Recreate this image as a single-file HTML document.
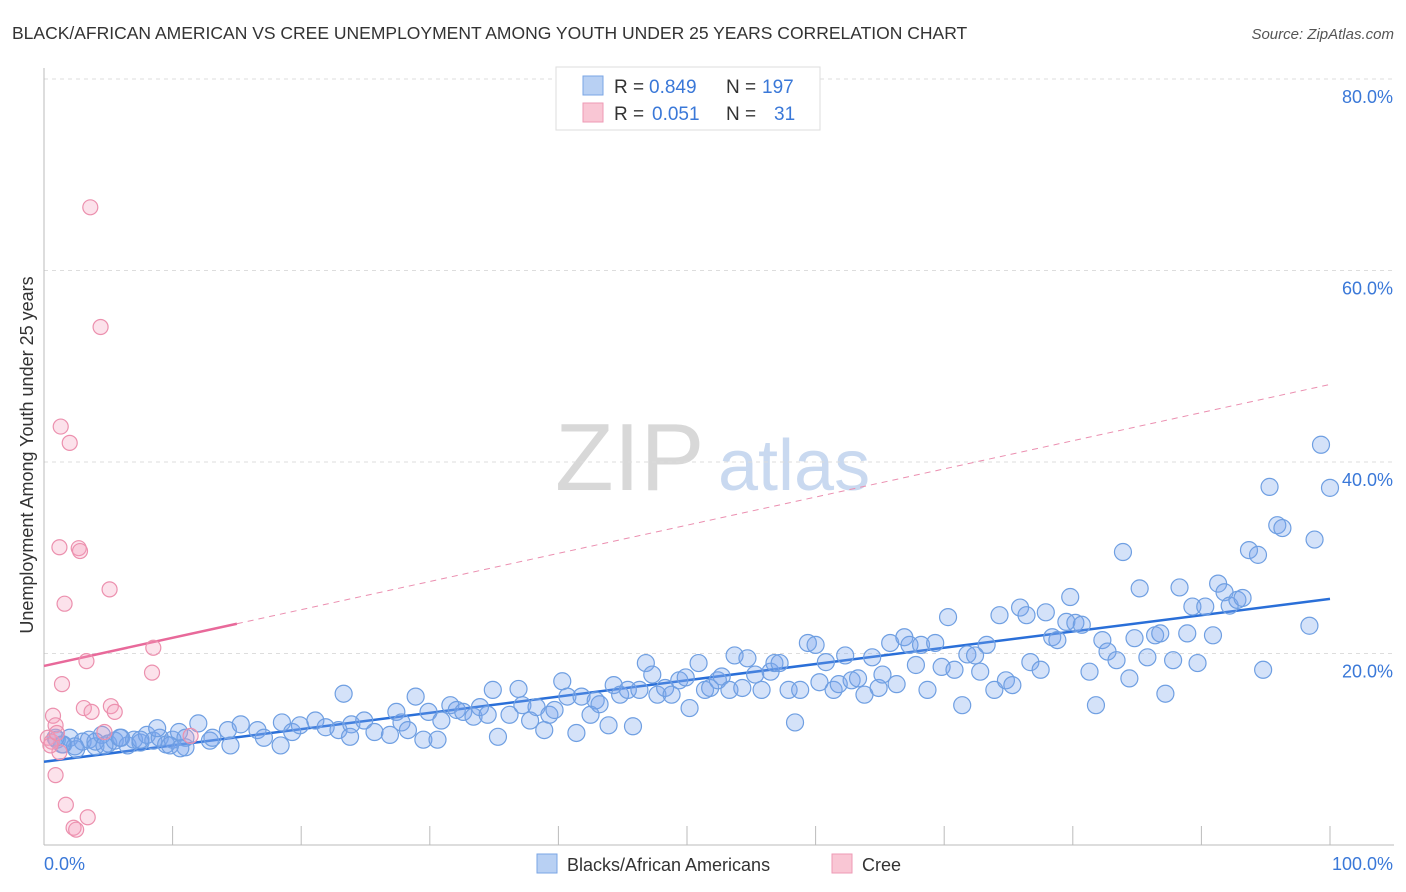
<!DOCTYPE html>
<html><head><meta charset="utf-8"><style>
body{margin:0;background:#fff;font-family:"Liberation Sans",sans-serif;}
#wrap{position:relative;width:1406px;height:892px;overflow:hidden;}
svg text{font-family:"Liberation Sans",sans-serif;}
</style></head><body>
<div id="wrap">
<svg id="chart" width="1406" height="892">
<text x="12" y="39" font-size="17.5" fill="#333">BLACK/AFRICAN AMERICAN VS CREE UNEMPLOYMENT AMONG YOUTH UNDER 25 YEARS CORRELATION CHART</text>
<text x="1394" y="39" font-size="15" fill="#555" font-style="italic" text-anchor="end">Source: ZipAtlas.com</text>
<text x="555" y="490" font-size="96" fill="#d8d8d8" font-family="Liberation Serif">ZIP</text>
<text x="718" y="490" font-size="72" fill="#c9d9f0">atlas</text>
<text transform="translate(33,455) rotate(-90)" font-size="18" fill="#333" text-anchor="middle">Unemployment Among Youth under 25 years</text>
<g id="grid"></g><g id="axes"></g><g id="lines"></g><g id="pts"></g>
<g>
<rect x="556" y="67" width="264" height="63" fill="#fff" stroke="#ddd"/>
<rect x="583" y="76" width="20" height="19" fill="#b8d0f3" stroke="#7aa6e4"/>
<rect x="583" y="103" width="20" height="19" fill="#f9c6d4" stroke="#ee9ab5"/>
<text x="614" y="93" font-size="19" fill="#333">R =</text>
<text x="649" y="93" font-size="19" fill="#3a78d8">0.849</text>
<text x="726" y="93" font-size="19" fill="#333">N =</text>
<text x="762" y="93" font-size="19" fill="#3a78d8">197</text>
<text x="614" y="120" font-size="19" fill="#333">R =</text>
<text x="652" y="120" font-size="19" fill="#3a78d8">0.051</text>
<text x="726" y="120" font-size="19" fill="#333">N =</text>
<text x="774" y="120" font-size="19" fill="#3a78d8">31</text>
</g>
<g>
<rect x="537" y="854" width="20" height="19" fill="#b8d0f3" stroke="#7aa6e4"/>
<text x="567" y="871" font-size="18" fill="#333">Blacks/African Americans</text>
<rect x="832" y="854" width="20" height="19" fill="#f9c6d4" stroke="#ee9ab5"/>
<text x="862" y="871" font-size="18" fill="#333">Cree</text>
</g>
</svg></div>
<script>
const yTicks=[20,40,60,80];
const xTickLabels=["0.0%","100.0%"];
const blueX=[1,1.5,2,2.5,3,3.5,4,4.5,5,5.5,6,6.5,7,7.5,8,8.5,9,9.5,10,10.5,11,9.8,8.8,11,12,12.9,14.3,15.3,16.6,18.4,18.5,19.3,19.9,21.1,21.9,23.3,22.9,23.9,24.9,25.7,26.9,27.4,27.8,28.9,28.3,29.5,29.9,30.6,30.9,31.6,32.1,32.6,33.4,33.9,34.5,34.9,35.3,36.2,36.9,37.2,37.8,38.3,38.9,39.3,39.7,40.3,40.7,41.4,41.8,42.5,42.9,43.2,43.9,44.3,44.8,45.4,45.8,46.3,46.8,47.3,47.7,48.3,48.8,49.4,49.9,50.2,50.9,51.4,51.8,52.4,52.7,53.3,53.7,54.3,54.7,55.3,55.8,56.5,56.8,57.2,57.9,58.4,58.8,59.4,60,60.3,60.8,61.4,61.8,62.3,62.8,63.3,63.8,64.4,64.9,65.2,65.8,66.3,66.9,67.3,67.8,68.2,68.7,69.3,69.8,70.3,70.8,71.4,71.8,72.4,72.8,73.3,73.9,74.3,74.8,75.3,75.9,76.4,76.7,77.5,77.9,78.4,78.8,79.5,79.8,80.2,80.7,81.3,81.8,82.3,82.7,83.4,83.9,84.4,84.8,85.2,85.8,86.4,86.8,87.2,87.8,88.3,88.9,89.3,89.7,90.3,90.9,91.3,91.8,92.2,92.8,93.2,93.7,94.4,94.8,95.3,95.9,96.3,98.4,98.8,99.3,100,14.5,13.1,17.1,23.8,10.6,7.5,5.9,4,4.7,2.4,1.4,0.9];
const blueY=[11,10.5,11.2,10,10.8,11,10.3,11.5,10.6,10.9,11.2,10.4,11,10.7,11.5,10.9,11.2,10.5,11,11.8,10.2,10.4,12.2,11.2,12.7,10.9,12,12.6,12,10.4,12.8,11.8,12.5,13,12.3,15.8,12,12.6,13,11.8,11.5,13.9,12.8,15.5,12,11,13.9,11,13,14.6,14.1,13.9,13.4,14.4,13.6,16.2,11.3,13.6,16.3,14.6,13,14.4,12,13.6,14.1,17.1,15.5,11.7,15.5,13.6,15.1,14.7,12.5,16.7,15.7,16.2,12.4,16.2,19,17.8,15.7,16.4,15.7,17.2,17.5,14.3,19,16.2,16.4,17.2,17.6,16.2,19.8,16.4,19.5,17.8,16.2,18.1,19,19,16.2,12.8,16.2,21.1,20.9,17,19.1,16.2,16.8,19.8,17.2,17.4,15.7,19.6,16.4,17.8,21.1,16.8,21.7,20.9,18.8,20.9,16.2,21.1,18.6,23.8,18.3,14.6,19.9,19.8,18.1,20.9,16.2,24,17.2,16.7,24.8,24,19.1,18.3,24.3,21.7,21.4,23.3,25.9,23.2,23,18.1,14.6,21.4,20.2,19.3,30.6,17.4,21.6,26.8,19.6,21.9,22.1,15.8,19.3,26.9,22.1,24.9,19,24.9,21.9,27.3,26.4,25,25.6,25.8,30.8,30.3,18.3,37.4,33.4,33.1,22.9,31.9,41.8,37.3,10.4,11.2,11.2,11.3,10.1,11,11.2,10.8,10.4,10.3,10.5,11.2];
const pinkX=[3.6,4.4,1.3,2,1.2,2.7,2.8,5.1,1.6,3.3,8.5,8.4,1.4,3.1,3.7,5.2,5.5,0.7,0.9,4.7,11.4,0.3,0.6,1.2,0.9,1.7,2.3,2.5,3.4,0.5,1];
const pinkY=[66.6,54.1,43.7,42,31.1,31,30.7,26.7,25.2,19.2,20.6,18,16.8,14.3,13.9,14.5,13.9,13.5,12.5,11.8,11.4,11.2,10.8,9.7,7.3,4.2,1.8,1.6,2.9,10.4,11.7];
const blueFit=[8.7,25.7];
const pinkFit=[18.7,48.1];
const pinkSolidEnd=15;
const NS="http://www.w3.org/2000/svg";
const X0=44,X1=1330,Y0=845,PXPER=9.575;
function sx(v){return X0+(X1-X0)*v/100;}
function sy(v){return Y0-v*PXPER;}
function mk(tag,attrs,parent){const e=document.createElementNS(NS,tag);for(const k in attrs)e.setAttribute(k,attrs[k]);document.getElementById(parent).appendChild(e);return e;}
yTicks.forEach(t=>{
 const l=mk('line',{x1:44,x2:1394,y1:sy(t),y2:sy(t),stroke:'#ddd','stroke-dasharray':'4,4'},'grid');
 
 
 const tx=mk('text',{x:1393,y:sy(t)+24,'font-size':18,fill:'#3a78d8','text-anchor':'end'},'grid');
 tx.textContent=t.toFixed(1)+'%';
 
 
});
const ax=mk('line',{x1:44,x2:44,y1:68,y2:845,stroke:'#bbb'},'axes');


const bx=mk('line',{x1:44,x2:1394,y1:845,y2:845,stroke:'#bbb'},'axes');


for(let i=0;i<=10;i++){
 const tk=mk('line',{x1:sx(i*10),x2:sx(i*10),y1:826,y2:845,stroke:'#bbb'},'axes');
 
 
}
const xl0=mk('text',{x:44,y:870,'font-size':18,fill:'#3a78d8'},'axes');xl0.textContent=xTickLabels[0];


const xl1=mk('text',{x:1393,y:870,'font-size':18,fill:'#3a78d8','text-anchor':'end'},'axes');xl1.textContent=xTickLabels[1];


blueX.forEach((x,i)=>{
 const c=mk('circle',{cx:sx(x),cy:sy(blueY[i]),r:8.5,fill:'rgba(120,165,235,0.32)',stroke:'#6f9fe2','stroke-width':1.2},'pts');
 
 
});
pinkX.forEach((x,i)=>{
 const c=mk('circle',{cx:sx(x),cy:sy(pinkY[i]),r:7.5,fill:'rgba(245,160,190,0.3)',stroke:'#ec90ae','stroke-width':1.2},'pts');
 
 
});
function fy(f,x){return f[0]+(f[1]-f[0])*x/100;}
const bl=mk('line',{x1:sx(0),y1:sy(fy(blueFit,0)),x2:sx(100),y2:sy(fy(blueFit,100)),stroke:'#2a6fd8','stroke-width':2.5},'lines');


const pl=mk('line',{x1:sx(0),y1:sy(fy(pinkFit,0)),x2:sx(pinkSolidEnd),y2:sy(fy(pinkFit,pinkSolidEnd)),stroke:'#e8699a','stroke-width':2.5},'lines');


const pd=mk('line',{x1:sx(pinkSolidEnd),y1:sy(fy(pinkFit,pinkSolidEnd)),x2:sx(100),y2:sy(fy(pinkFit,100)),stroke:'#eb8fb0','stroke-width':1,'stroke-dasharray':'6,5'},'lines');


</script>
</body></html>
